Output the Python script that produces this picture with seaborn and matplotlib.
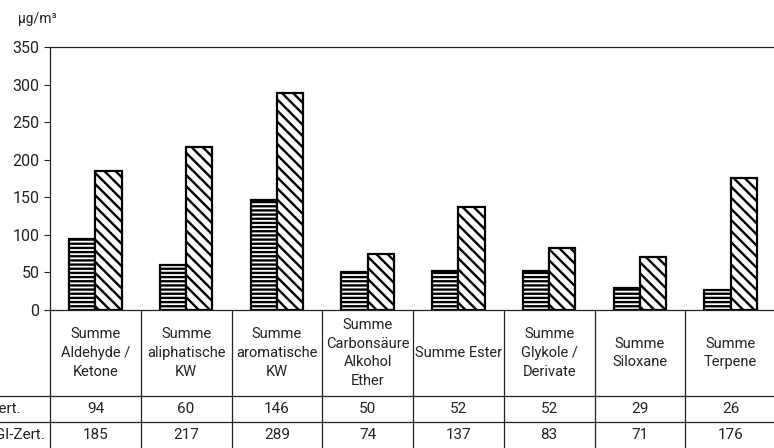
import matplotlib
matplotlib.use("Agg")
import matplotlib.pyplot as plt
import matplotlib.transforms as mtransforms
import seaborn as sns
import pandas as pd

categories = ["Summe\nAldehyde /\nKetone", "Summe\naliphatische\nKW", "Summe\naromatische\nKW",
              "Summe\nCarbonsäure\nAlkohol\nEther", "Summe Ester", "Summe\nGlykole /\nDerivate",
              "Summe\nSiloxane", "Summe\nTerpene"]
series_names = ["ohne Zert.", "mit GI-Zert."]
values_a = [94, 60, 146, 50, 52, 52, 29, 26]
values_b = [185, 217, 289, 74, 137, 83, 71, 176]
yticks = [0, 50, 100, 150, 200, 250, 300, 350]
unit_label = "µg/m³"

sns.set_style("white")
plt.rcParams["font.family"] = ["Roboto", "DejaVu Sans"]
plt.rcParams["hatch.linewidth"] = 1.7

df = pd.DataFrame({
    "cat": categories * 2,
    "series": [series_names[0]] * len(categories) + [series_names[1]] * len(categories),
    "val": values_a + values_b,
})

W, H = 774, 448
fig = plt.figure(figsize=(W / 100, H / 100), dpi=100)
ax = fig.add_axes([50 / W, 1 - 310 / H, 726 / W, 263 / H])

sns.barplot(data=df, x="cat", y="val", hue="series", order=categories, hue_order=series_names,
            width=0.58, gap=0, dodge=True, palette=["white", "white"], edgecolor="black",
            linewidth=1.6, legend=False, ax=ax)
hatches = ["----", "\\\\\\"]
for cont, h in zip(ax.containers, hatches):
    for p in cont:
        p.set_hatch(h)
        p.set_edgecolor("black")
        p.set_facecolor("white")

ax.set_xlim(-0.5, len(categories) - 0.5)
ax.set_ylim(0, 350)
ax.set_yticks(yticks)
ax.set_xticks([])
ax.set_xlabel("")
ax.set_ylabel("")
for s in ax.spines.values():
    s.set_color("#222222")
    s.set_linewidth(0.9)
ax.tick_params(axis="y", length=4.5, width=0.8, color="#222222", pad=3, labelsize=11.5,
               labelcolor="#222222", left=True, direction="out")

def fy(py):
    return 1 - py / H

trans = mtransforms.blended_transform_factory(ax.transData, fig.transFigure)
lc = "#222222"
lw = 0.9
for i in range(len(categories) + 1):
    x = i - 0.5
    fig.add_artist(plt.Line2D([x, x], [fy(310), fy(448)], transform=trans, color=lc, lw=lw,
                              clip_on=False))
for py in [396, 422]:
    fig.add_artist(plt.Line2D([0, 1.01], [fy(py), fy(py)], transform=fig.transFigure,
                              color=lc, lw=lw, clip_on=False))

fs = 10.5
tc = "#222222"
for i, c in enumerate(categories):
    fig.text(i, fy(353), c, transform=trans, ha="center", va="center", fontsize=fs,
             color=tc, linespacing=1.45)
    fig.text(i, fy(409), str(values_a[i]), transform=trans, ha="center", va="center",
             fontsize=11, color=tc)
    fig.text(i, fy(435), str(values_b[i]), transform=trans, ha="center", va="center",
             fontsize=11, color=tc)

fig.text(21 / W, fy(409), series_names[0], ha="right", va="center", fontsize=11, color=tc)
fig.text(45 / W, fy(435), series_names[1], ha="right", va="center", fontsize=11, color=tc)
fig.text(18 / W, fy(19), unit_label, ha="left", va="center", fontsize=10, color=tc)

fig.savefig("out.png", dpi=100)
